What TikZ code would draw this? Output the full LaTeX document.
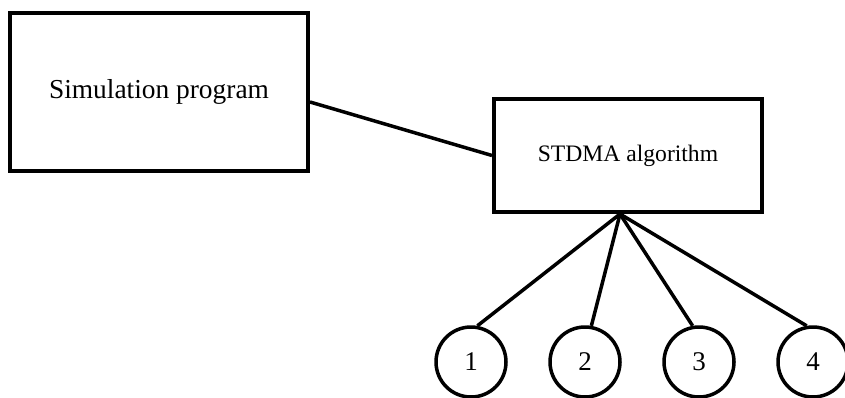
\documentclass[tikz,border=0pt]{standalone}
\usepackage{fontspec}
\setmainfont{Liberation Serif}
\tikzset{
  box/.style={draw=black, line width=4pt, fill=white, inner sep=0pt},
  station/.style={draw=black, circle, line width=3.5pt, minimum size=70pt, inner sep=0pt,
    font=\fontsize{27}{30}\selectfont},
  link/.style={draw=black, line width=3.5pt}
}
\begin{document}
\begin{tikzpicture}[x=1pt, y=-1pt]
  \useasboundingbox (0,0) rectangle (845,398);

  % the two program blocks
  \node[box, minimum width=298pt, minimum height=158pt,
        font=\fontsize{27.4}{30}\selectfont] (sim) at (159,92) {Simulation program};
  \node[box, minimum width=268pt, minimum height=113pt,
        font=\fontsize{23.6}{26}\selectfont] (stdma) at (628,155.5) {STDMA algorithm};

  % the four stations
  \node[station] (s1) at (471,362) {1};
  \node[station] (s2) at (585,362) {2};
  \node[station] (s3) at (699,362) {3};
  \node[station] (s4) at (813,362) {4};

  % connectors
  \coordinate (simout) at ([yshift=-10pt]sim.east);
  \draw[link] (simout) -- (stdma.west);

  \coordinate (hub) at ([xshift=-8pt]stdma.south);
  \draw[link, line join=miter] (hub) -- (s1.80);
  \draw[link] (hub) -- (s2.80);
  \draw[link] (hub) -- (s3.100);
  \draw[link] (hub) -- (s4.100);
\end{tikzpicture}
\end{document}
